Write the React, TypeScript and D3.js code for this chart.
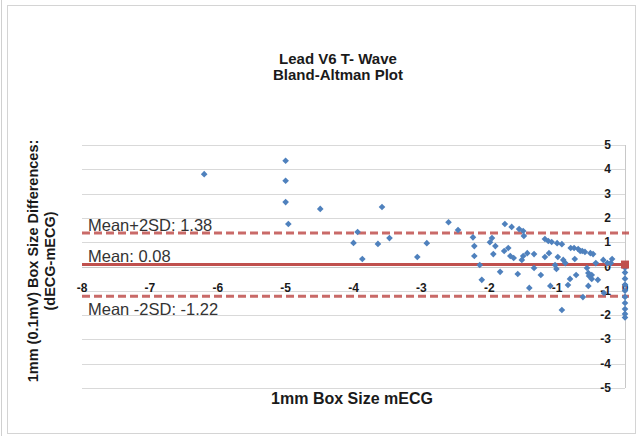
import React from "react";
import * as d3 from "d3";

const W = 639;
const H = 436;

const titleLines = ["Lead V6 T- Wave", "Bland-Altman Plot"];
const yTitleLines = ["1mm (0.1mV) Box Size Differences:", "(dECG-mECG)"];
const xTitle = "1mm Box Size mECG";
const xTicks = [-8, -7, -6, -5, -4, -3, -2, -1, 0];
const yTicks = [5, 4, 3, 2, 1, 0, -1, -2, -3, -4, -5];

const meanValue = 0.08;
const upperLimit = 1.38;
const lowerLimit = -1.22;
const meanLabel = "Mean: 0.08";
const upperLabel = "Mean+2SD: 1.38";
const lowerLabel = "Mean -2SD: -1.22";

// averages (mECG) and differences (dECG - mECG)
const avgValues = [
  -6.2, -5.0, -5.0, -5.0, -4.96, -4.49, -3.58, -3.94, -4.0, -3.64, -3.47, -3.87,
  -3.06, -2.92, -2.6, -2.46, -2.24, -2.22, -2.22, -2.14, -2.11, -1.99, -1.96, -1.91,
  -1.94, -1.84, -1.78, -1.77, -1.72, -1.69, -1.67, -1.64, -1.58, -1.56, -1.52, -1.5,
  -1.5, -1.49, -1.44, -1.41, -1.34, -1.34, -1.24, -1.18, -1.18, -1.13, -1.12, -1.08,
  -1.1, -1.03, -1.0, -1.01, -0.99, -0.93, -0.91, -0.93, -0.88, -0.84, -0.81, -0.8,
  -0.75, -0.74, -0.72, -0.69, -0.66, -0.63, -0.62, -0.59, -0.56, -0.54, -0.54, -0.51,
  -0.53, -0.49, -0.47, -0.49, -0.43, -0.4, -0.32, -0.31, -0.26, -0.21, -0.19,
  0, 0, 0, 0, 0, 0, 0, 0, 0, 0,
];
const diffValues = [
  3.8, 4.35, 3.53, 2.65, 1.75, 2.37, 2.45, 1.42, 0.97, 0.93, 1.17, 0.31,
  0.39, 0.96, 1.82, 1.5, 1.2, 0.84, 0.43, 0.06, -0.55, 1.0, 1.17, 0.84,
  0.51, -0.22, 0.64, 1.75, 0.76, 0.43, 1.63, 0.35, -0.31, 1.54, 0.27, 0.43,
  1.46, 1.26, 0.55, -0.88, 0.51, -0.06, -0.35, 0.39, 1.13, 1.05, 0.55, 1.01,
  -0.8, 0.06, 0.96, -0.1, 0.39, 0.92, 0.27, -1.79, 0.14, -0.76, -0.51, 0.76,
  0.76, 0.31, -0.35, 0.72, 0.64, 0.64, -1.26, 0.6, -0.06, -0.27, -0.8, 0.55,
  -0.39, -0.35, 0.51, -0.51, 0.14, -0.55, 0.27, -1.09, 0.14, 0.14, 0.31,
  -0.05, -0.25, -0.5, -0.75, -1.0, -1.25, -1.5, -1.75, -1.95, -2.1,
];

const FONT = "'Liberation Sans', Arial, sans-serif";

export default function App() {
  const x = d3.scaleLinear().domain([-8, 0]).range([82, 625]);
  const y = d3.scaleLinear().domain([-5, 5]).range([388, 145]);
  const diamond = d3.symbol().type(d3.symbolSquare).size(22)();
  const red = "#c0504d";

  return (
    <svg
      width={W}
      height={H}
      style={{ position: "absolute", left: 0, top: 0, background: "#fff" }}
      fontFamily={FONT}
    >
      <rect x={0} y={0} width={W} height={H} fill="#fff" />
      <line x1={1.5} x2={1.5} y1={0} y2={H} stroke="#d0d0d0" />
      <rect x={7.5} y={5.5} width={628} height={428} fill="#fff" stroke="#d4d4d4" />

      {/* title */}
      {titleLines.map((t, i) => (
        <text key={t} x={338} y={64 + i * 16} textAnchor="middle" fontSize={15} fontWeight="bold" fill="#1a1a1a">
          {t}
        </text>
      ))}

      {/* gridlines */}
      {yTicks.map((v) => (
        <line key={"g" + v} x1={x(-8)} x2={x(0)} y1={Math.round(y(v)) + 0.5} y2={Math.round(y(v)) + 0.5} stroke="#d9d9d9" />
      ))}
      {/* axes */}
      <line x1={x(0) + 0.5} x2={x(0) + 0.5} y1={y(5)} y2={y(-5)} stroke="#c8c8c8" />
      <line x1={x(-8)} x2={x(0)} y1={Math.round(y(0)) + 0.5} y2={Math.round(y(0)) + 0.5} stroke="#c8c8c8" />

      {/* y tick labels */}
      {yTicks.map((v) => (
        <text key={"yt" + v} x={611} y={y(v) + 4} textAnchor="end" fontSize={12} fontWeight="bold" fill="#1a1a1a">
          {v}
        </text>
      ))}

      {/* limit lines */}
      <line x1={x(-8)} x2={x(0) + 4} y1={y(upperLimit)} y2={y(upperLimit)} stroke={red} strokeOpacity={0.85} strokeWidth={3} strokeDasharray="8,4" />
      <line x1={x(-8)} x2={x(0) + 4} y1={y(lowerLimit)} y2={y(lowerLimit)} stroke={red} strokeOpacity={0.85} strokeWidth={3} strokeDasharray="8,4" />
      <line x1={x(-8)} x2={x(0)} y1={y(meanValue)} y2={y(meanValue)} stroke={red} strokeWidth={3} />

      {/* x tick labels */}
      {xTicks.map((v) => (
        <text key={"xt" + v} x={x(v)} y={y(0) + 25} textAnchor="middle" fontSize={12} fontWeight="bold" fill={v === 0 ? "#1f3a66" : "#1a1a1a"}>
          {v}
        </text>
      ))}

      {/* points */}
      {avgValues.map((a, i) => (
        <path key={"p" + i} d={diamond} transform={`translate(${x(a)},${y(diffValues[i])}) rotate(45)`} fill="#4f81bd" />
      ))}
      <rect x={x(0) - 4} y={y(meanValue) - 4} width={8} height={8} fill={red} />

      {/* limit labels */}
      <text x={88} y={y(upperLimit) - 2} fontSize={16.5} fill="#333">{upperLabel}</text>
      <text x={88} y={y(meanValue) - 3} fontSize={16.5} fill="#333">{meanLabel}</text>
      <text x={88} y={y(lowerLimit) + 19} fontSize={16.5} fill="#333">{lowerLabel}</text>

      {/* axis titles */}
      <text x={352} y={404} textAnchor="middle" fontSize={16} fontWeight="bold" fill="#1a1a1a">
        {xTitle}
      </text>
      {yTitleLines.map((t, i) => (
        <text
          key={t}
          transform={`translate(${38 + i * 17},261) rotate(-90)`}
          textAnchor="middle"
          fontSize={14.5}
          fontWeight="bold"
          fill="#1a1a1a"
        >
          {t}
        </text>
      ))}
    </svg>
  );
}
